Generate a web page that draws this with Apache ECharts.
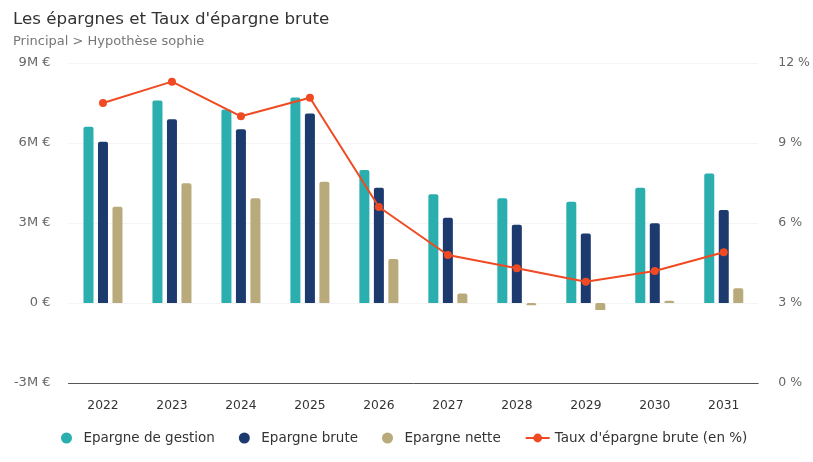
<!DOCTYPE html>
<html><head><meta charset="utf-8">
<script src="https://cdn.jsdelivr.net/npm/echarts@6/dist/echarts.min.js"></script>
<style>html,body{margin:0;padding:0;background:#fff}#c{width:813px;height:462px}</style>
</head><body><div id="c"></div>
<script>
const categories = ['2022','2023','2024','2025','2026','2027','2028','2029','2030','2031'];
const epargneGestion = [6.61, 7.59, 7.26, 7.71, 4.99, 4.08, 3.93, 3.80, 4.32, 4.86];
const epargneBrute = [6.05, 6.89, 6.52, 7.11, 4.32, 3.20, 2.93, 2.61, 2.99, 3.49];
const epargneNette = [3.61, 4.49, 3.93, 4.55, 1.65, 0.36, -0.08, -0.26, 0.08, 0.55];
const tauxEpargne = [10.5, 11.3, 10.0, 10.7, 6.6, 4.8, 4.3, 3.8, 4.2, 4.9];
const leftTicks = [-3, 0, 3, 6, 9];
const rightTicks = [0, 3, 6, 9, 12];

const FONT = 'DejaVu Sans, sans-serif';
const chart = echarts.init(document.getElementById('c'));
chart.setOption({
  animation: false,
  textStyle: { fontFamily: FONT },
  title: {
    text: "Les épargnes et Taux d'épargne brute",
    subtext: 'Principal > Hypothèse sophie',
    left: 8, top: 6, itemGap: 7,
    textStyle: { fontFamily: FONT, fontSize: 16.7, fontWeight: 'normal', color: '#333' },
    subtextStyle: { fontFamily: FONT, fontSize: 13, color: '#777' }
  },
  legend: {
    bottom: 12, left: 56, itemGap: 24, itemWidth: 24, itemHeight: 11,
    textStyle: { fontFamily: FONT, fontSize: 13.5, color: '#333' },
    data: [
      { name: 'Epargne de gestion', icon: 'circle' },
      { name: 'Epargne brute', icon: 'circle' },
      { name: 'Epargne nette', icon: 'circle' },
      { name: "Taux d'épargne brute (en %)" }
    ]
  },
  grid: { left: 68.5, right: 54.5, top: 63, bottom: 79 },
  xAxis: {
    type: 'category', data: categories,
    axisLine: { onZero: false, lineStyle: { color: '#555', width: 1 } },
    axisTick: { show: false },
    axisLabel: { fontSize: 12.3, color: '#333', margin: 17 }
  },
  yAxis: [
    {
      type: 'value', min: leftTicks[0], max: leftTicks[leftTicks.length - 1], interval: 3,
      splitLine: { show: true, lineStyle: { color: '#f4f4f4' } },
      axisLabel: { fontSize: 13, color: '#666', margin: 18,
        formatter: v => v === 0 ? '0 €' : v + 'M €' }
    },
    {
      type: 'value', min: rightTicks[0], max: rightTicks[rightTicks.length - 1], interval: 3,
      splitLine: { show: false },
      axisLabel: { fontSize: 12.5, color: '#666', margin: 20, formatter: v => v + ' %' }
    }
  ],
  series: [
    { name: 'Epargne de gestion', type: 'bar', data: epargneGestion, barWidth: 10, barGap: '45%',
      itemStyle: { color: '#2aaeae', borderRadius: [2, 2, 0, 0] } },
    { name: 'Epargne brute', type: 'bar', data: epargneBrute, barWidth: 10, barGap: '45%',
      itemStyle: { color: '#1c3a6e', borderRadius: [2, 2, 0, 0] } },
    { name: 'Epargne nette', type: 'bar', data: epargneNette, barWidth: 10, barGap: '45%',
      itemStyle: { color: '#b8aa7a', borderRadius: [2, 2, 0, 0] } },
    { name: "Taux d'épargne brute (en %)", type: 'line', yAxisIndex: 1, data: tauxEpargne,
      symbol: 'circle', symbolSize: 8, z: 5,
      lineStyle: { color: '#f04a22', width: 2 },
      itemStyle: { color: '#f04a22' } }
  ]
});
</script></body></html>
